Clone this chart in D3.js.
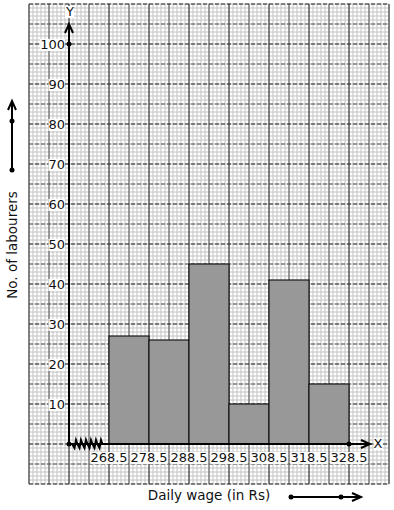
<!DOCTYPE html>
<html>
<head>
<meta charset="utf-8">
<script src="https://cdn.jsdelivr.net/npm/d3@7"></script>
<style>
  body { margin: 0; background: #fff; }
  text { font-family: "DejaVu Sans", sans-serif; }
</style>
</head>
<body>
<div id="chart"></div>
<script>
// histogram data - class edges and frequencies
var edges = [268.5, 278.5, 288.5, 298.5, 308.5, 318.5, 328.5];
var counts = [27, 26, 45, 10, 41, 15];
var yTicks = [10, 20, 30, 40, 50, 60, 70, 80, 90, 100];

var width = 394, height = 510;

var svg = d3.select("#chart").append("svg")
    .attr("width", width)
    .attr("height", height);

// scales (graph paper runs from 248.5 to 338.5 along x, -10 to 110 along y)
var x = d3.scaleLinear().domain([268.5, 328.5]).range([109, 349]);
var y = d3.scaleLinear().domain([0, 100]).range([444, 44]);

var gx0 = 248.5, gx1 = 338.5, gy0 = -10, gy1 = 110;

// minor grid
var grid = svg.append("g");
d3.range(gx0, gx1 + 0.01, 1).forEach(function(v) {
    grid.append("line").attr("x1", x(v)).attr("x2", x(v)).attr("y1", y(gy1)).attr("y2", y(gy0))
        .attr("stroke", "#c2c2c2").attr("stroke-width", 1);
});
d3.range(gy0, gy1 + 0.01, 1).forEach(function(v) {
    grid.append("line").attr("y1", y(v)).attr("y2", y(v)).attr("x1", x(gx0)).attr("x2", x(gx1))
        .attr("stroke", "#c2c2c2").attr("stroke-width", 1);
});
// major grid: vertical solid, horizontal dashed; every 10 units a bit darker
d3.range(gx0, gx1 + 0.01, 5).forEach(function(v, i) {
    grid.append("line").attr("x1", x(v)).attr("x2", x(v)).attr("y1", y(gy1)).attr("y2", y(gy0))
        .attr("stroke", i % 2 ? "#555" : "#222").attr("stroke-width", 1);
});
d3.range(gy0, gy1 + 0.01, 5).forEach(function(v, i) {
    grid.append("line").attr("y1", y(v)).attr("y2", y(v)).attr("x1", x(gx0)).attr("x2", x(gx1))
        .attr("stroke", i % 2 ? "#555" : "#222").attr("stroke-width", 1)
        .attr("stroke-dasharray", "4,2");
});

// bars
svg.selectAll("rect.bar")
    .data(counts)
    .enter()
    .append("rect")
        .attr("class", "bar")
        .attr("x", function(d, i) { return x(edges[i]); })
        .attr("y", function(d) { return y(d); })
        .attr("width", function(d, i) { return x(edges[i + 1]) - x(edges[i]); })
        .attr("height", function(d) { return y(0) - y(d); })
        .attr("fill", "#989898")
        .attr("stroke", "#000")
        .attr("stroke-width", 1);

var ox = 69, oy = y(0);

// axes
svg.append("line").attr("x1", ox).attr("x2", ox).attr("y1", oy).attr("y2", 25)
    .attr("stroke", "#000").attr("stroke-width", 2);
svg.append("path").attr("d", "M" + (ox - 4) + ",33 L" + ox + ",24 L" + (ox + 4) + ",33")
    .attr("fill", "none").attr("stroke", "#000").attr("stroke-width", 2);
svg.append("line").attr("x1", ox).attr("x2", 370).attr("y1", oy).attr("y2", oy)
    .attr("stroke", "#000").attr("stroke-width", 2);
svg.append("path").attr("d", "M361," + (oy - 4) + " L370," + oy + " L361," + (oy + 4))
    .attr("fill", "none").attr("stroke", "#000").attr("stroke-width", 2);

// axis break zigzag
var zz = "M" + (ox + 3) + "," + oy;
for (var k = 0; k < 6; k++) {
    var bx = ox + 4 + k * 5;
    zz += " L" + (bx + 1.5) + "," + (oy + 4) + " L" + (bx + 3) + "," + (oy - 4) + " L" + (bx + 4.5) + "," + oy;
}
svg.append("path").attr("d", zz).attr("fill", "none").attr("stroke", "#000").attr("stroke-width", 2);

svg.append("circle").attr("cx", ox).attr("cy", oy).attr("r", 2.5).attr("fill", "#000");
svg.append("circle").attr("cx", ox).attr("cy", y(100)).attr("r", 2.5).attr("fill", "#000");
svg.append("circle").attr("cx", x(edges[edges.length - 1])).attr("cy", oy).attr("r", 2.5).attr("fill", "#000");

// labels with white backing
function label(txt, lx, ly, anchor, size) {
    var t = svg.append("text").attr("x", lx).attr("y", ly).attr("text-anchor", anchor)
        .attr("font-size", size || 13).attr("fill", "#111").text(txt);
    var b = t.node().getBBox();
    svg.insert("rect", function() { return t.node(); })
        .attr("x", b.x).attr("y", b.y + 2).attr("width", b.width).attr("height", b.height - 3)
        .attr("fill", "#fff");
}

yTicks.forEach(function(v) { label(v, 65, y(v) + 5, "end"); });
edges.forEach(function(v) { label(v.toFixed(1), x(v), oy + 18, "middle"); });
label("X", 378, oy + 4, "middle");
label("Y", 70, 16, "middle");

// axis titles
svg.append("text").attr("x", 209).attr("y", 500).attr("text-anchor", "middle")
    .attr("font-size", 13.5).attr("fill", "#111").text("Daily wage (in Rs)");
svg.append("text").attr("transform", "translate(17,245) rotate(-90)").attr("text-anchor", "middle")
    .attr("font-size", 13.5).attr("fill", "#111").text("No. of labourers");

// direction arrows beside the titles
svg.append("line").attr("x1", 291).attr("x2", 360).attr("y1", 497).attr("y2", 497)
    .attr("stroke", "#000").attr("stroke-width", 2);
svg.append("path").attr("d", "M352,493 L361,497 L352,501")
    .attr("fill", "none").attr("stroke", "#000").attr("stroke-width", 2);
svg.append("circle").attr("cx", 291).attr("cy", 497).attr("r", 2.5).attr("fill", "#000");
svg.append("circle").attr("cx", 341).attr("cy", 497).attr("r", 2.5).attr("fill", "#000");

svg.append("line").attr("x1", 12).attr("x2", 12).attr("y1", 170).attr("y2", 102)
    .attr("stroke", "#000").attr("stroke-width", 2);
svg.append("path").attr("d", "M8,110 L12,101 L16,110")
    .attr("fill", "none").attr("stroke", "#000").attr("stroke-width", 2);
svg.append("circle").attr("cx", 12).attr("cy", 170).attr("r", 2.5).attr("fill", "#000");
svg.append("circle").attr("cx", 12).attr("cy", 121).attr("r", 2.5).attr("fill", "#000");
</script>
</body>
</html>
